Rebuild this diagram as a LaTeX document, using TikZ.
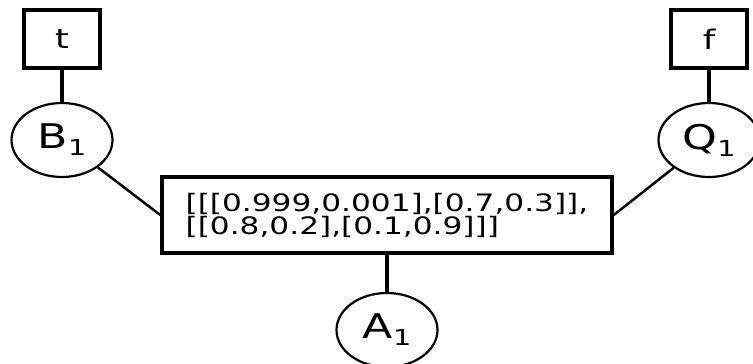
\documentclass[tikz,border=0pt]{standalone}
\usepackage{fontspec}
\usepackage{graphicx}
\setmainfont{DejaVu Sans}
\usetikzlibrary{shapes.geometric}
\newcommand\wide[1]{\scalebox{1.3}[1]{#1}}
\newcommand\lbl[2]{\wide{#1\raisebox{-7pt}{\fontsize{22}{22}\selectfont #2}}}
\tikzset{
  valbox/.style={draw, line width=3.5pt, minimum width=76pt, minimum height=58pt, inner sep=0pt, font=\fontsize{27}{27}\selectfont},
  varnode/.style={draw, ellipse, line width=2.2pt, minimum width=101pt, minimum height=74pt, inner sep=0pt, font=\fontsize{34}{34}\selectfont},
  tablebox/.style={draw, line width=3.5pt, minimum width=450pt, minimum height=76pt, inner sep=0pt, align=left, font=\fontsize{24}{23}\selectfont},
  thick edge/.style={line width=4pt},
  thin edge/.style={line width=2.5pt}
}
\begin{document}
\begin{tikzpicture}[x=1pt, y=-1pt]
\useasboundingbox (0,0) rectangle (753,364);
\clip (0,0) rectangle (753,364);
\node[valbox] (t) at (62,39) {\wide{t}};
\node[varnode] (B1) at (62,140) {\lbl{B}{1}};
\node[valbox] (f) at (709,39) {\wide{f}};
\node[varnode] (Q1) at (709,140) {\lbl{Q}{1}};
\node[tablebox] (cpt) at (387,215) {\wide{[[[0.999,0.001],[0.7,0.3]],}\\\wide{[[0.8,0.2],[0.1,0.9]]]}};
\node[varnode] (A1) at (387,330) {\lbl{A}{1}};
\draw[thick edge] (t.south) -- (B1);
\draw[thick edge] (f.south) -- (Q1);
\draw[thin edge] (B1) -- (cpt.west);
\draw[thin edge] (Q1) -- (cpt.east);
\draw[thick edge] (cpt.south) -- (A1);
\end{tikzpicture}
\end{document}
